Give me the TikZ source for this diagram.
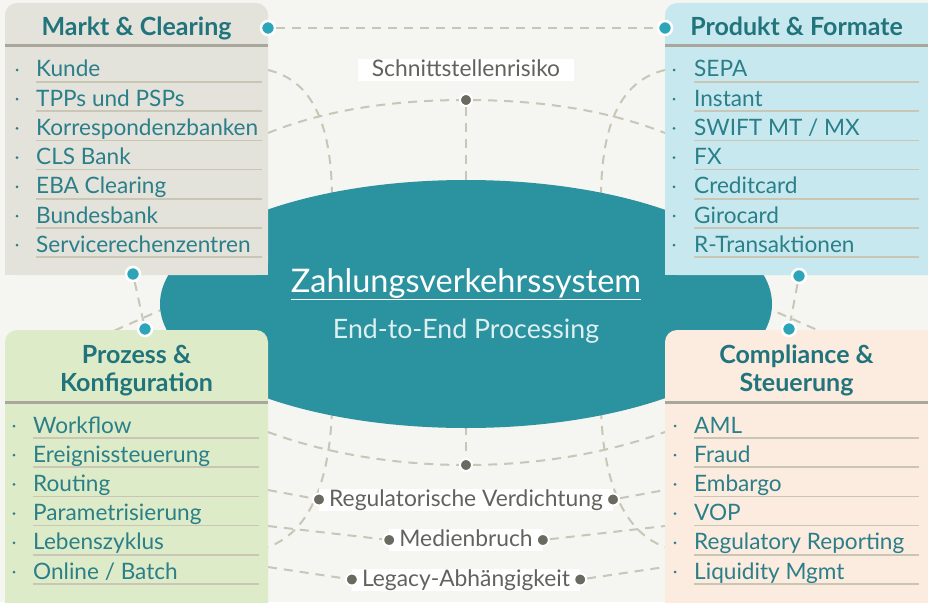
\documentclass[tikz,border=0pt]{standalone}
\usepackage{fontspec}
\setmainfont{Lato}
\usetikzlibrary{shapes.geometric}
\definecolor{zvbg}{HTML}{F5F5F1}
\definecolor{zvteal}{HTML}{2B929F}
\definecolor{zvhead}{HTML}{21747B}
\definecolor{zvitem}{HTML}{2A7F88}
\definecolor{zvpale}{HTML}{DDEFF1}
\definecolor{zvgray}{HTML}{E3E2DB}
\definecolor{zvblue}{HTML}{C7E8EF}
\definecolor{zvgreen}{HTML}{DDEBC8}
\definecolor{zvpeach}{HTML}{FCEBDF}
\definecolor{zvrule}{HTML}{C9C6B5}
\definecolor{zvsep}{HTML}{A9A79B}
\definecolor{zvdash}{HTML}{C8C6B6}
\definecolor{zvdot}{HTML}{2CA5B8}
\definecolor{zvdark}{HTML}{6B6A61}
\definecolor{zvlabel}{HTML}{62625E}
\pgfdeclarelayer{links}
\pgfdeclarelayer{fore}
\pgfsetlayers{links,main,fore}

\begin{document}
\begin{tikzpicture}[x=1pt,y=-1pt,
    link/.style={zvdash,line width=2pt,dash pattern=on 9pt off 7pt},
    tealdot/.style={circle,fill=zvdot,draw=white,line width=2.5pt,minimum size=14pt,inner sep=0pt},
    darkdot/.style={circle,fill=zvdark,draw=white,line width=2pt,minimum size=12pt,inner sep=0pt},
    tag/.style={fill=white,text=zvlabel,font=\fontsize{22.8}{26}\selectfont,inner xsep=10pt,inner ysep=1.5pt,text height=16pt,text depth=3pt},
    head/.style={text=zvhead,font=\fontsize{25}{29}\selectfont\bfseries,anchor=base},
    item/.style={text=zvitem,font=\fontsize{22.6}{26}\selectfont,anchor=base west,inner sep=0pt},
    rule/.style={zvrule,line width=1.5pt},
    sep/.style={zvsep,line width=3pt}]
\useasboundingbox (0,0) rectangle (928,602);
\clip (0,0) rectangle (928,602);

\begin{pgfonlayer}{fore}
  \node[tealdot] (mcE) at (268,28) {};
  \node[tealdot] (pfW) at (665,28) {};
  \node[tealdot] (mcS) at (133,274) {};
  \node[tealdot] (pkN) at (145,329) {};
  \node[tealdot] (pfS) at (799,276) {};
  \node[tealdot] (csN) at (789,329) {};
  \node[darkdot] (risk) at (466,100) {};
  \node[darkdot] (load) at (466,465) {};
  \node[tag,inner xsep=14pt] (sr) at (466,70) {Schnittstellenrisiko};
  \node[tag] (rv) at (466,499.5) {Regulatorische Verdichtung};
  \node[tag] (mb) at (466,540) {Medienbruch};
  \node[tag] (la) at (466,579.5) {Legacy-Abhängigkeit};
  \foreach \n in {rv,mb,la}{
    \node[darkdot] (\n-w) at (\n.west) {};
    \node[darkdot] (\n-e) at (\n.east) {};
  }
\end{pgfonlayer}

\begin{pgfonlayer}{links}
  \fill[zvbg] (0,0) rectangle (928,602);
  \coordinate (kuL) at (268,70);
  \coordinate (kuR) at (665,70);
  \coordinate (swL) at (268,133);
  \coordinate (swR) at (665,133);
  \coordinate (topL) at (332,200);
  \coordinate (topR) at (601,200);
  \coordinate (topM) at (466,200);
  \coordinate (botL) at (332,410);
  \coordinate (botR) at (601,410);
  \coordinate (botM) at (466,410);
  \coordinate (ewL) at (268,432);
  \coordinate (ewR) at (665,432);
  \coordinate (lzL) at (268,547);
  \coordinate (lzR) at (665,547);
  \coordinate (rvL) at (268,490);
  \coordinate (rvR) at (665,490);
  \coordinate (mbL) at (268,526);
  \coordinate (mbR) at (665,526);
  \coordinate (laL) at (268,567);
  \coordinate (laR) at (665,567);
  \coordinate (dgL1) at (100,337);
  \coordinate (dgL2) at (170,306);
  \coordinate (dgR1) at (763,306);
  \coordinate (dgR2) at (833,337);
  \draw[link] (mcE) -- (pfW);
  \draw[link] (mcS) -- (pkN);
  \draw[link] (pfS) -- (csN);
  \draw[link] (dgL1) -- (dgL2);
  \draw[link] (dgR1) -- (dgR2);
  \draw[link] (swL) .. controls (330,108) and (400,100) .. (risk.center) .. controls (532,100) and (602,108) .. (swR);
  \draw[link] (risk) -- (topM);
  \draw[link] (kuL) .. controls (310,80) and (332,120) .. (topL);
  \draw[link] (kuR) .. controls (623,80) and (601,120) .. (topR);
  \draw[link] (ewL) .. controls (330,455) and (400,465) .. (load.center) .. controls (532,465) and (602,455) .. (ewR);
  \draw[link] (botM) -- (load);
  \draw[link] (botL) .. controls (330,470) and (315,530) .. (lzL);
  \draw[link] (botR) .. controls (603,470) and (618,530) .. (lzR);
  \draw[link] (rvL) -- (rv-w);
  \draw[link] (rv-e) -- (rvR);
  \draw[link] (mbL) -- (mb-w);
  \draw[link] (mb-e) -- (mbR);
  \draw[link] (laL) -- (la-w);
  \draw[link] (la-e) -- (laR);
\end{pgfonlayer}

\node[ellipse,fill=zvteal,minimum width=612pt,minimum height=248pt,inner sep=0pt] (core) at (466,304) {};
\node[text=white,font=\fontsize{32.5}{36}\selectfont] (zv) at (466,284) {\underline{Zahlungsverkehrssystem}};
\node[text=zvpale,font=\fontsize{26.7}{30}\selectfont] (e2e) at (466,331) {End-to-End Processing};

\fill[zvgray,rounded corners=12pt] (5,3) rectangle (268,275);
\fill[zvgray] (5,60) rectangle (268,275);
\fill[zvblue,rounded corners=12pt] (665,3) rectangle (940,275);
\fill[zvblue] (665,60) rectangle (940,275);
\fill[zvgreen,rounded corners=12pt] (5,330) rectangle (268,620);
\fill[zvgreen] (5,400) rectangle (268,620);
\fill[zvpeach,rounded corners=12pt] (665,330) rectangle (940,620);
\fill[zvpeach] (665,400) rectangle (940,620);

\draw[sep] (5,46) -- (268,46);
\draw[sep] (665,46) -- (928,46);
\draw[sep] (5,402) -- (268,402);
\draw[sep] (665,402) -- (928,402);

\node[head] (mcT) at (136.5,35.5) {Markt \& Clearing};
\node[head] (pfT) at (796.5,35.5) {Produkt \& Formate};
\node[head] (pkT) at (136.5,363) {Prozess \&};
\node[head] (pkT2) at (136.5,391) {Konfiguration};
\node[head] (csT) at (796.5,363) {Compliance \&};
\node[head] (csT2) at (796.5,391) {Steuerung};

\foreach \t [count=\i] in {Kunde,TPPs und PSPs,Korrespondenzbanken,CLS Bank,EBA Clearing,Bundesbank,Servicerechenzentren}{
  \node[item] (mc-\i) at (36,{47.8+29.2*\i}) {\t};
  \fill[zvitem] (17,{40.8+29.2*\i}) circle (1.5pt);
  \draw[rule] (36,{52.8+29.2*\i}) -- (262,{52.8+29.2*\i});
}
\foreach \t [count=\i] in {SEPA,Instant,SWIFT MT / MX,FX,Creditcard,Girocard,R-Transaktionen}{
  \node[item] (pf-\i) at (694,{47.8+29.2*\i}) {\t};
  \fill[zvitem] (674,{40.8+29.2*\i}) circle (1.5pt);
  \draw[rule] (694,{52.8+29.2*\i}) -- (919,{52.8+29.2*\i});
}
\foreach \t [count=\i] in {Workflow,Ereignissteuerung,Routing,Parametrisierung,Lebenszyklus,Online / Batch}{
  \node[item] (pk-\i) at (33,{403.8+29.2*\i}) {\t};
  \fill[zvitem] (14,{396.8+29.2*\i}) circle (1.5pt);
  \draw[rule] (33,{408.8+29.2*\i}) -- (259,{408.8+29.2*\i});
}
\foreach \t [count=\i] in {AML,Fraud,Embargo,VOP,Regulatory Reporting,Liquidity Mgmt}{
  \node[item] (cs-\i) at (694,{403.8+29.2*\i}) {\t};
  \fill[zvitem] (675,{396.8+29.2*\i}) circle (1.5pt);
  \draw[rule] (694,{408.8+29.2*\i}) -- (919,{408.8+29.2*\i});
}
\end{tikzpicture}
\end{document}
